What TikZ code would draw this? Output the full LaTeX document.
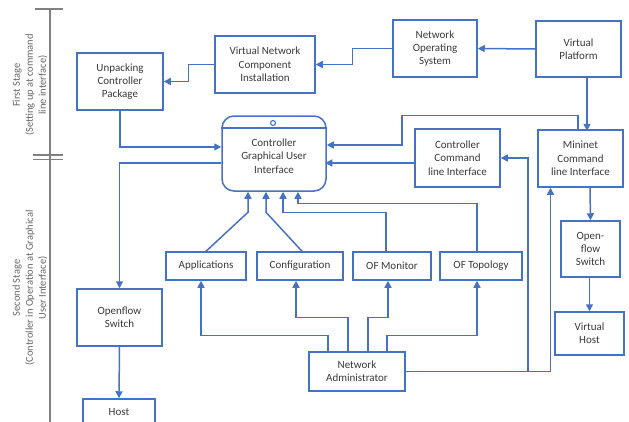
\documentclass[tikz,border=0pt]{standalone}
\usepackage{fontspec}
\setmainfont{Carlito}
\usetikzlibrary{arrows.meta}
\definecolor{boxblue}{HTML}{4472C4}
\definecolor{txtgray}{HTML}{3A3A3A}
\definecolor{stagegray}{HTML}{808080}

\tikzset{
  box/.style={draw=boxblue, line width=1.5pt, fill=white, align=center,
    text=txtgray, font=\fontsize{11}{13.3}\selectfont, inner sep=2pt},
  arr/.style={draw=boxblue, line width=1.5pt,
    -{Triangle[length=7pt,width=7pt]}},
  stage/.style={draw=stagegray, line width=1.2pt},
  stagetext/.style={rotate=90, align=center, text=stagegray!80!black,
    font=\fontsize{10.5}{13}\selectfont},
}

\begin{document}
\begin{tikzpicture}[x=1pt,y=-1pt]
\useasboundingbox (0,0) rectangle (629,421);
\clip (0,0) rectangle (629,421);

% stage ruler on the left
\draw[stage] (35,9) -- (63,9);
\draw[stage] (50,9) -- (50,430);
\draw[stage] (33,155) -- (63,155);
\draw[stage] (33,159.5) -- (63,159.5);
\node[stagetext] (st1) at (30,85) {First Stage\\(Setting up at command\\line interface)};
\node[stagetext] (st2) at (30,288) {Second Stage\\(Controller in Operation at Graphical\\User Interface)};

% first stage boxes
\node[box, minimum width=86pt, minimum height=57pt] (unpack) at (120,81.5) {Unpacking\\Controller\\Package};
\node[box, minimum width=100pt, minimum height=57pt] (vnci) at (265,64.5) {Virtual Network\\Component\\Installation};
\node[box, minimum width=84pt, minimum height=57pt] (nos) at (435,48.5) {Network\\Operating\\System};
\node[box, minimum width=85pt, minimum height=56pt] (vp) at (578.5,49) {Virtual\\Platform};

% controller GUI window
\node[draw=boxblue, line width=1.5pt, rounded corners=12pt, fill=white,
      minimum width=104pt, minimum height=75pt] (gui) at (274,153.5) {};
\draw[boxblue, line width=1.5pt] (gui.west |- 0,128) -- (gui.east |- 0,128);
\draw[boxblue, line width=1.1pt] (273,123) circle (2.5pt);
\node[align=center, text=txtgray, font=\fontsize{11}{13.3}\selectfont] (guitext) at (274,156)
  {Controller\\Graphical User\\Interface};

% command line boxes
\node[box, minimum width=85pt, minimum height=58pt] (ccli) at (457.5,158) {Controller\\Command\\line Interface};
\node[box, minimum width=85pt, minimum height=57pt] (mcli) at (580.5,158.5) {Mininet\\Command\\line Interface};
\node[box, minimum width=59pt, minimum height=56pt] (ofs) at (590.5,249) {Open-\\flow\\Switch};
\node[box, minimum width=69pt, minimum height=43pt] (vhost) at (589.5,333.5) {Virtual\\Host};

% GUI modules
\node[box, minimum width=80pt, minimum height=28pt] (apps) at (206,266) {Applications};
\node[box, minimum width=86pt, minimum height=28pt] (config) at (300,266) {Configuration};
\node[box, minimum width=78pt, minimum height=28pt] (ofmon) at (392,266) {OF Monitor};
\node[box, minimum width=82pt, minimum height=28pt] (ofto) at (481,266) {OF Topology};

% second stage data path
\node[box, minimum width=85pt, minimum height=57pt] (ofsw) at (119.5,317.5) {Openflow\\Switch};
\node[box, minimum width=72pt, minimum height=26pt] (host) at (119,412) {Host};
\node[box, minimum width=96pt, minimum height=39pt] (na) at (357,371.5) {Network\\Administrator};

% first stage flow
\draw[arr] (vp.west) -- (nos.east);
\draw[arr] (nos.west) -- ++(-40,0) |- (vnci.east);
\draw[arr] (vnci.west) -- ++(-26,0) |- (unpack.east);
\draw[arr] (unpack.south) |- ([yshift=6.5pt]gui.west);
\draw[arr] ([yshift=-9.5pt]gui.west) -| (ofsw.north);
\draw[arr] (ofsw.south) -- (host.north);

% right-hand flow
\draw[arr] ([xshift=8.5pt]vp.south) -- ++(0,53);
\draw[arr] ([xshift=-2.5pt]mcli.north) -- ++(0,-14) -| (402,145) -- ([yshift=8.5pt]gui.east);
\draw[arr] ([yshift=-5pt]ccli.west) -- ++(-89,0);
\draw[arr] ([xshift=9.5pt]mcli.south) -- (ofs.north);
\draw[arr] ([xshift=-1pt]ofs.south) -- (vhost.north);

% modules into the GUI
\draw[arr] (apps.north) -- ++(42,-39) -- ([xshift=-26pt]gui.south);
\draw[arr] ([xshift=2pt]config.north) -- ++(-36,-39) -- ([xshift=-8pt]gui.south);
\draw[arr] ([xshift=-6pt]ofmon.north) -- ++(0,-39) -| ([xshift=9pt]gui.south);
\draw[arr] ([xshift=-4pt]ofto.north) -- ++(0,-48) -| ([xshift=24pt]gui.south);

% administrator links
\draw[arr] ([xshift=-29pt]na.north) -- ++(0,-16) -| ([xshift=-5pt]apps.south);
\draw[arr] ([xshift=-9pt]na.north) -- ++(0,-34) -| ([xshift=-4pt]config.south);
\draw[arr] ([xshift=11pt]na.north) -- ++(0,-34) -| ([xshift=-4pt]ofmon.south);
\draw[arr] ([xshift=30pt]na.north) -- ++(0,-16) -| ([xshift=-4pt]ofto.south);
\draw[arr] (na.east) -| ([xshift=-30pt]mcli.south);
\draw[arr] (na.east) -- ++(122,0) |- (ccli.east);
\end{tikzpicture}
\end{document}
